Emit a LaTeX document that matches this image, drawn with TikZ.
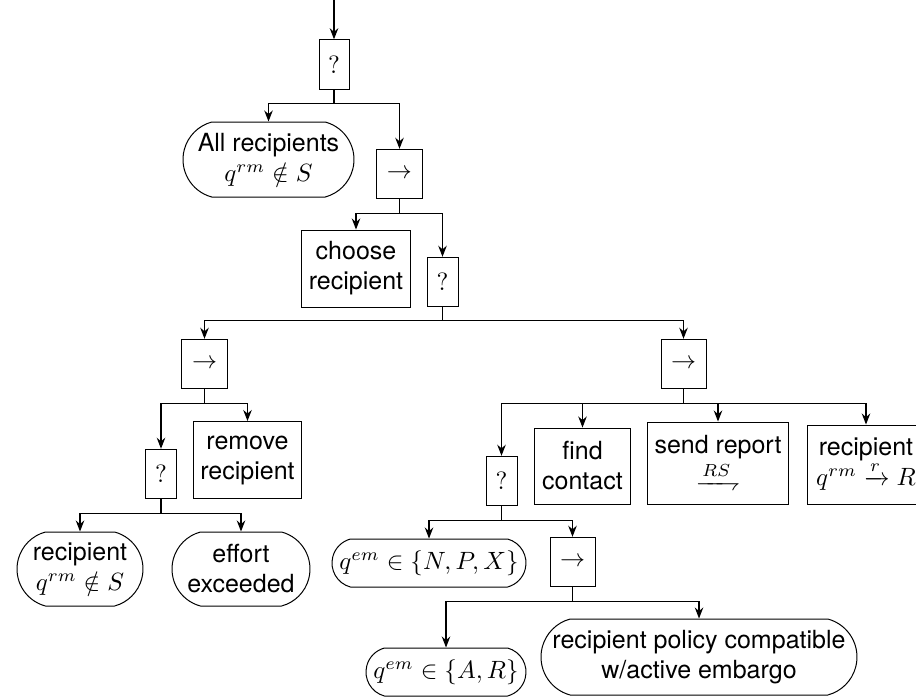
\documentclass[tikz,border=0pt]{standalone}
\usepackage{fontspec}
\setmainfont{TeX Gyre Heros}
\usepackage{mathtools}
\usepackage{tikz}
\usetikzlibrary{arrows.meta,shapes.misc}

\begin{document}
\begin{tikzpicture}[x=0.4pt,y=-0.4pt,
    ctl/.style={draw,line width=0.4pt,shape=rectangle,inner sep=0pt,
                minimum width=#1,minimum height=19.8pt},
    act/.style={draw,line width=0.4pt,shape=rectangle,inner sep=2pt,align=center},
    cond/.style={draw,line width=0.4pt,shape=rounded rectangle,
                 rounded rectangle arc length=150,inner sep=2pt,align=center},
    link/.style={-{Stealth[length=4.4pt,width=3.4pt]},line width=0.45pt}]

\useasboundingbox (0,0) rectangle (916,696);

% ======================= root fallback ================================================
\coordinate (entry) at (334,0);
\node[ctl=12pt] (root) at (334,64.5) {$?$};
\node[cond,minimum width=72.4pt,minimum height=30pt] (allrec) at (268.5,159.5)
     {All recipients\\$q^{rm}\notin S$};
\node[ctl=18pt] (seq1) at (399.5,174) {$\rightarrow$};
\draw[link] (entry) -- (root);
\draw[link] (root.south) -- ++(0,14) -| (allrec);
\draw[link] (root.south) -- ++(0,14) -| (seq1);

% ======================= choose recipient, then fallback ==============================
\node[act,minimum width=43.2pt,minimum height=30.8pt] (choose) at (356,268.5) {choose\\recipient};
\node[ctl=12.4pt] (sel2) at (442.5,282) {$?$};
\draw[link] (seq1.south) -- ++(0,14) -| (choose);
\draw[link] (seq1.south) -- ++(0,14) -| (sel2);

\node[ctl=18pt] (seqL) at (204.5,364) {$\rightarrow$};
\node[ctl=18pt] (seqR) at (683.5,364) {$\rightarrow$};
\draw[link] (sel2.south) -- ++(0,13.5) -| (seqL);
\draw[link] (sel2.south) -- ++(0,13.5) -| (seqR);

% ======================= left branch: give up on recipient ============================
\node[ctl=12pt] (selL) at (161,474) {$?$};
\node[act,minimum width=42.8pt,minimum height=30.8pt] (remove) at (247.5,460) {remove\\recipient};
\draw[link] (seqL.south) -- ++(0,14) -| (selL);
\draw[link] (seqL.south) -- ++(0,14) -| (remove);

\node[cond,minimum width=54.4pt,minimum height=29.6pt] (recS) at (80,569) {recipient\\$q^{rm}\notin S$};
\node[cond,minimum width=59.2pt,minimum height=29.6pt] (effort) at (241,569) {effort\\exceeded};
\draw[link] (selL.south) -- ++(0,14) -| (recS);
\draw[link] (selL.south) -- ++(0,14) -| (effort);

% ======================= right branch: report to recipient ============================
\node[ctl=12.4pt] (selR) at (501.5,481) {$?$};
\node[act,minimum width=38pt,minimum height=30.4pt] (find) at (582.5,466) {find\\contact};
\node[act,minimum width=56pt,minimum height=32.8pt] (send) at (718,463) {send report\\$\xrightharpoondown{RS}$};
\node[act,minimum width=46.4pt,minimum height=31.6pt] (recR) at (866,464.5) {recipient\\$q^{rm}\xrightarrow{r}R$};
\draw[link] (seqR.south) -- ++(0,14) -| (selR);
\draw[link] (seqR.south) -- ++(0,14) -| (find);
\draw[link] (seqR.south) -- ++(0,14) -| (send);
\draw[link] (seqR.south) -- ++(0,14) -| (recR);

% ======================= embargo checks ===============================================
\node[cond,minimum width=81.6pt,minimum height=19.2pt] (npx) at (429,563) {$q^{em}\in\{N,P,X\}$};
\node[ctl=18pt] (seq3) at (572.5,562) {$\rightarrow$};
\draw[link] (selR.south) -- ++(0,14) -| (npx);
\draw[link] (selR.south) -- ++(0,14) -| (seq3);

\node[cond,minimum width=68pt,minimum height=19.2pt] (ar) at (446,672) {$q^{em}\in\{A,R\}$};
\node[cond,minimum width=130.4pt,minimum height=30.4pt] (policy) at (699,657)
     {recipient policy compatible\\w/active embargo};
\draw[link] (seq3.south) -- ++(0,14) -| (ar);
\draw[link] (seq3.south) -- ++(0,14) -| (policy);

\end{tikzpicture}
\end{document}
